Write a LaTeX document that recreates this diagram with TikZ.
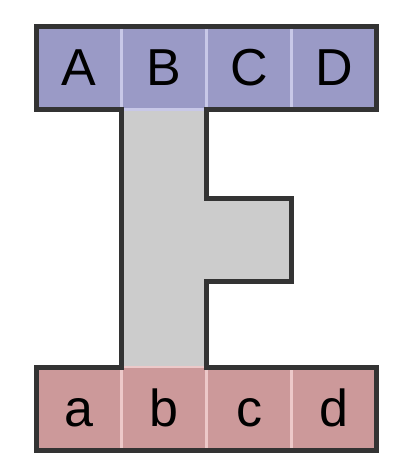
\documentclass[tikz,border=0pt]{standalone}
\usepackage{fontspec}
\setmainfont{Liberation Sans}
\definecolor{topfill}{HTML}{9A9AC6}
\definecolor{topline}{HTML}{C8C8E8}
\definecolor{botfill}{HTML}{CC999A}
\definecolor{botline}{HTML}{EDC9C9}
\definecolor{colfill}{HTML}{CCCCCC}
\definecolor{outline}{HTML}{333333}
\tikzset{
  cell/.style={minimum width=85pt, minimum height=83pt, inner sep=0pt,
    text height=35pt, text depth=0pt, line width=2.4pt,
    font=\fontsize{52}{60}\selectfont},
  topcell/.style={cell, fill=topfill, draw=topline},
  botcell/.style={cell, fill=botfill, draw=botline},
  border/.style={draw=outline, line width=5pt, line join=miter}
}
\begin{document}
\begin{tikzpicture}[x=1pt,y=-1pt]
\useasboundingbox (0,0) rectangle (416,475);
% central column
\fill[colfill] (121.5,109.5) rectangle (206,367);
\fill[colfill] (206,198) rectangle (291,281);
% top row
\node[topcell] (A) at (79,68) {A};
\node[topcell] (B) at (164,68) {B};
\node[topcell] (C) at (249,68) {C};
\node[topcell] (D) at (334,68) {D};
% bottom row
\node[botcell] (a) at (79,408.5) {a};
\node[botcell] (b) at (164,408.5) {b};
\node[botcell] (c) at (249,408.5) {c};
\node[botcell] (d) at (334,408.5) {d};
% outline
\draw[border] (36.5,26.5) -- (376.5,26.5) -- (376.5,109.5) -- (206,109.5)
  -- (206,198) -- (291,198) -- (291,281) -- (206,281) -- (206,367)
  -- (376.5,367) -- (376.5,450) -- (36.5,450) -- (36.5,367) -- (121.5,367)
  -- (121.5,109.5) -- (36.5,109.5) -- cycle;
\end{tikzpicture}
\end{document}
